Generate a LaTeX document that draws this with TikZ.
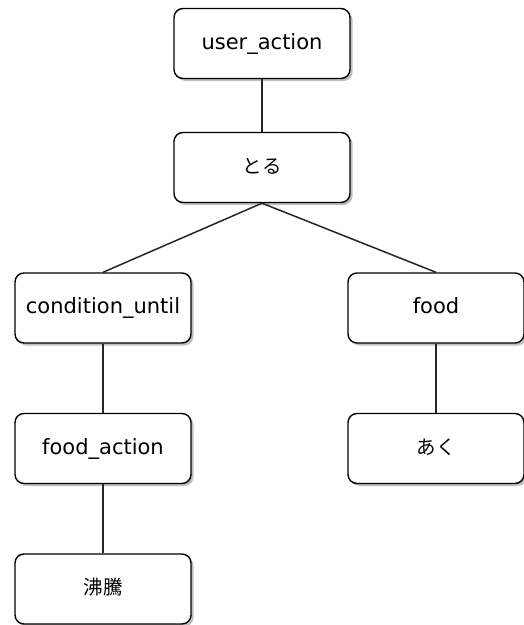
\documentclass[tikz,border=0pt]{standalone}
\usepackage{fontspec}
\setmainfont{DejaVu Sans}
\newfontfamily\cjk{Noto Sans CJK JP}
\usetikzlibrary{shadows}
\begin{document}
\begin{tikzpicture}[x=1pt,y=-1pt,
  box/.style={draw=black, line width=1.4pt, rounded corners=9pt, fill=white,
    minimum width=176pt, minimum height=70pt, inner sep=0pt,
    text height=15pt, text depth=4pt,
    font=\fontsize{21}{24}\selectfont,
    drop shadow={shadow xshift=2.5pt, shadow yshift=-2.5pt, fill=black, opacity=0.25}},
  jp/.style={font=\cjk\fontsize{19.5}{24}\selectfont},
  link/.style={draw=black!85, line width=1.5pt}]
\useasboundingbox (0,0) rectangle (524,625);
\node[box] (ua) at (262,43.5) {user\_action};
\node[box,jp] (toru) at (262,167.5) {とる};
\node[box] (cu) at (103,308) {condition\_until};
\node[box] (food) at (436,308) {food};
\node[box] (fa) at (103,448.5) {food\_action};
\node[box,jp] (aku) at (436,448.5) {あく};
\node[box,jp] (futto) at (103,589) {沸騰};
\draw[link] (ua.south) -- (toru.north);
\draw[link] (toru.south) -- (cu.north);
\draw[link] (toru.south) -- (food.north);
\draw[link] (cu.south) -- (fa.north);
\draw[link] (fa.south) -- (futto.north);
\draw[link] (food.south) -- (aku.north);
\end{tikzpicture}
\end{document}
